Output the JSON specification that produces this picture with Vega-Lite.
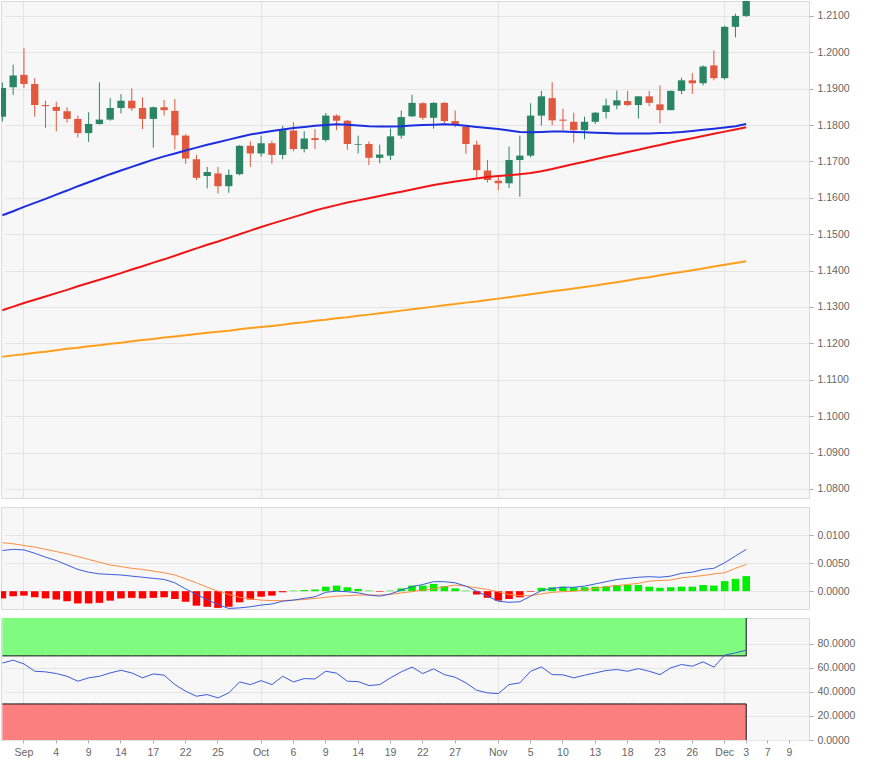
{
  "$schema": "https://vega.github.io/schema/vega-lite/v6.json",
  "background": "white",
  "padding": {"left": 0, "top": 0, "right": 5, "bottom": 0},
  "spacing": 7,
  "config": {
    "font": "Liberation Sans",
    "view": {"fill": "#f7f7f7", "stroke": "#dadada"},
    "axis": {"domain": false, "title": null, "labelFont": "Liberation Sans", "labelFontSize": 10.5, "labelColor": "#666666", "tickColor": "#aaaaaa", "gridColor": "#e4e4e4", "labelOverlap": false}
  },
  "datasets": {
    "fx": [
      {"date":"2020-08-28","open":1.1823,"high":1.1917,"low":1.1810,"close":1.1902,"sma50":1.1552,"sma100":1.1291,"sma200":1.1163,"macd":0.0073,"signal":0.0087,"hist":-0.0013,"rsi":64.0},
      {"date":"2020-08-31","open":1.1904,"high":1.1966,"low":1.1883,"close":1.1936,"sma50":1.1563,"sma100":1.1301,"sma200":1.1167,"macd":0.0075,"signal":0.0085,"hist":-0.0009,"rsi":66.4},
      {"date":"2020-09-01","open":1.1938,"high":1.2011,"low":1.1902,"close":1.1913,"sma50":1.1575,"sma100":1.1311,"sma200":1.1170,"macd":0.0074,"signal":0.0082,"hist":-0.0008,"rsi":63.3},
      {"date":"2020-09-02","open":1.1913,"high":1.1929,"low":1.1823,"close":1.1855,"sma50":1.1586,"sma100":1.1320,"sma200":1.1174,"macd":0.0068,"signal":0.0079,"hist":-0.0011,"rsi":57.2},
      {"date":"2020-09-03","open":1.1855,"high":1.1867,"low":1.1792,"close":1.1852,"sma50":1.1597,"sma100":1.1329,"sma200":1.1177,"macd":0.0061,"signal":0.0075,"hist":-0.0013,"rsi":56.7},
      {"date":"2020-09-04","open":1.1850,"high":1.1864,"low":1.1783,"close":1.1839,"sma50":1.1609,"sma100":1.1338,"sma200":1.1181,"macd":0.0055,"signal":0.0071,"hist":-0.0015,"rsi":55.3},
      {"date":"2020-09-07","open":1.1838,"high":1.1849,"low":1.1807,"close":1.1817,"sma50":1.1620,"sma100":1.1347,"sma200":1.1185,"macd":0.0047,"signal":0.0067,"hist":-0.0018,"rsi":53.0},
      {"date":"2020-09-08","open":1.1817,"high":1.1826,"low":1.1766,"close":1.1778,"sma50":1.1632,"sma100":1.1357,"sma200":1.1188,"macd":0.0039,"signal":0.0062,"hist":-0.0022,"rsi":48.9},
      {"date":"2020-09-09","open":1.1778,"high":1.1835,"low":1.1754,"close":1.1803,"sma50":1.1643,"sma100":1.1366,"sma200":1.1192,"macd":0.0034,"signal":0.0057,"hist":-0.0022,"rsi":51.7},
      {"date":"2020-09-10","open":1.1803,"high":1.1917,"low":1.1801,"close":1.1815,"sma50":1.1654,"sma100":1.1375,"sma200":1.1195,"macd":0.0031,"signal":0.0052,"hist":-0.0021,"rsi":53.0},
      {"date":"2020-09-11","open":1.1815,"high":1.1874,"low":1.1812,"close":1.1847,"sma50":1.1665,"sma100":1.1384,"sma200":1.1199,"macd":0.0030,"signal":0.0047,"hist":-0.0017,"rsi":55.8},
      {"date":"2020-09-14","open":1.1847,"high":1.1885,"low":1.1832,"close":1.1867,"sma50":1.1675,"sma100":1.1393,"sma200":1.1202,"macd":0.0029,"signal":0.0044,"hist":-0.0013,"rsi":58.0},
      {"date":"2020-09-15","open":1.1867,"high":1.1901,"low":1.1839,"close":1.1846,"sma50":1.1685,"sma100":1.1403,"sma200":1.1206,"macd":0.0027,"signal":0.0041,"hist":-0.0012,"rsi":55.8},
      {"date":"2020-09-16","open":1.1847,"high":1.1876,"low":1.1789,"close":1.1817,"sma50":1.1695,"sma100":1.1412,"sma200":1.1209,"macd":0.0025,"signal":0.0039,"hist":-0.0013,"rsi":51.7},
      {"date":"2020-09-17","open":1.1817,"high":1.1851,"low":1.1738,"close":1.1849,"sma50":1.1705,"sma100":1.1422,"sma200":1.1212,"macd":0.0023,"signal":0.0036,"hist":-0.0012,"rsi":55.0},
      {"date":"2020-09-18","open":1.1849,"high":1.1869,"low":1.1826,"close":1.1841,"sma50":1.1714,"sma100":1.1431,"sma200":1.1216,"macd":0.0021,"signal":0.0033,"hist":-0.0011,"rsi":53.9},
      {"date":"2020-09-21","open":1.1839,"high":1.1872,"low":1.1733,"close":1.1772,"sma50":1.1722,"sma100":1.1441,"sma200":1.1219,"macd":0.0015,"signal":0.0029,"hist":-0.0014,"rsi":46.1},
      {"date":"2020-09-22","open":1.1771,"high":1.1775,"low":1.1693,"close":1.1708,"sma50":1.1730,"sma100":1.1451,"sma200":1.1222,"macd":0.0004,"signal":0.0022,"hist":-0.0019,"rsi":40.6},
      {"date":"2020-09-23","open":1.1706,"high":1.1718,"low":1.1649,"close":1.1655,"sma50":1.1738,"sma100":1.1461,"sma200":1.1226,"macd":-0.0006,"signal":0.0015,"hist":-0.0026,"rsi":36.4},
      {"date":"2020-09-24","open":1.1660,"high":1.1685,"low":1.1626,"close":1.1671,"sma50":1.1746,"sma100":1.1471,"sma200":1.1229,"macd":-0.0015,"signal":0.0007,"hist":-0.0028,"rsi":37.8},
      {"date":"2020-09-25","open":1.1667,"high":1.1685,"low":1.1612,"close":1.1632,"sma50":1.1753,"sma100":1.1480,"sma200":1.1232,"macd":-0.0024,"signal":0.0000,"hist":-0.0030,"rsi":35.0},
      {"date":"2020-09-28","open":1.1632,"high":1.1678,"low":1.1614,"close":1.1663,"sma50":1.1760,"sma100":1.1490,"sma200":1.1235,"macd":-0.0031,"signal":-0.0006,"hist":-0.0028,"rsi":39.2},
      {"date":"2020-09-29","open":1.1665,"high":1.1745,"low":1.1662,"close":1.1743,"sma50":1.1767,"sma100":1.1500,"sma200":1.1239,"macd":-0.0030,"signal":-0.0011,"hist":-0.0020,"rsi":48.3},
      {"date":"2020-09-30","open":1.1743,"high":1.1755,"low":1.1685,"close":1.1722,"sma50":1.1774,"sma100":1.1510,"sma200":1.1242,"macd":-0.0028,"signal":-0.0014,"hist":-0.0015,"rsi":46.1},
      {"date":"2020-10-01","open":1.1722,"high":1.1771,"low":1.1713,"close":1.1750,"sma50":1.1779,"sma100":1.1520,"sma200":1.1245,"macd":-0.0025,"signal":-0.0016,"hist":-0.0010,"rsi":49.4},
      {"date":"2020-10-02","open":1.1750,"high":1.1757,"low":1.1694,"close":1.1718,"sma50":1.1784,"sma100":1.1529,"sma200":1.1248,"macd":-0.0023,"signal":-0.0017,"hist":-0.0008,"rsi":46.1},
      {"date":"2020-10-05","open":1.1718,"high":1.1798,"low":1.1706,"close":1.1786,"sma50":1.1788,"sma100":1.1538,"sma200":1.1251,"macd":-0.0018,"signal":-0.0017,"hist":-0.0002,"rsi":53.0},
      {"date":"2020-10-06","open":1.1785,"high":1.1808,"low":1.1728,"close":1.1734,"sma50":1.1792,"sma100":1.1547,"sma200":1.1255,"macd":-0.0016,"signal":-0.0016,"hist":0.0001,"rsi":48.3},
      {"date":"2020-10-07","open":1.1734,"high":1.1783,"low":1.1725,"close":1.1763,"sma50":1.1795,"sma100":1.1556,"sma200":1.1258,"macd":-0.0013,"signal":-0.0015,"hist":0.0002,"rsi":51.1},
      {"date":"2020-10-08","open":1.1764,"high":1.1789,"low":1.1734,"close":1.1759,"sma50":1.1798,"sma100":1.1565,"sma200":1.1262,"macd":-0.0010,"signal":-0.0013,"hist":0.0003,"rsi":50.8},
      {"date":"2020-10-09","open":1.1759,"high":1.1833,"low":1.1754,"close":1.1826,"sma50":1.1800,"sma100":1.1573,"sma200":1.1265,"macd":-0.0002,"signal":-0.0011,"hist":0.0008,"rsi":57.2},
      {"date":"2020-10-12","open":1.1826,"high":1.1829,"low":1.1786,"close":1.1812,"sma50":1.1802,"sma100":1.1580,"sma200":1.1269,"macd":0.0000,"signal":-0.0009,"hist":0.0010,"rsi":55.6},
      {"date":"2020-10-13","open":1.1812,"high":1.1814,"low":1.1732,"close":1.1748,"sma50":1.1801,"sma100":1.1587,"sma200":1.1272,"macd":-0.0001,"signal":-0.0008,"hist":0.0007,"rsi":48.9},
      {"date":"2020-10-14","open":1.1746,"high":1.1771,"low":1.1722,"close":1.1748,"sma50":1.1799,"sma100":1.1593,"sma200":1.1276,"macd":-0.0003,"signal":-0.0007,"hist":0.0004,"rsi":48.6},
      {"date":"2020-10-15","open":1.1748,"high":1.1755,"low":1.1690,"close":1.1710,"sma50":1.1797,"sma100":1.1599,"sma200":1.1279,"macd":-0.0007,"signal":-0.0007,"hist":0.0001,"rsi":45.3},
      {"date":"2020-10-16","open":1.1710,"high":1.1746,"low":1.1695,"close":1.1719,"sma50":1.1796,"sma100":1.1605,"sma200":1.1283,"macd":-0.0009,"signal":-0.0007,"hist":-0.0001,"rsi":46.1},
      {"date":"2020-10-19","open":1.1716,"high":1.1790,"low":1.1704,"close":1.1769,"sma50":1.1796,"sma100":1.1611,"sma200":1.1286,"macd":-0.0005,"signal":-0.0006,"hist":0.0001,"rsi":51.7},
      {"date":"2020-10-20","open":1.1771,"high":1.1840,"low":1.1762,"close":1.1822,"sma50":1.1797,"sma100":1.1617,"sma200":1.1290,"macd":0.0002,"signal":-0.0003,"hist":0.0005,"rsi":56.7},
      {"date":"2020-10-21","open":1.1824,"high":1.1883,"low":1.1822,"close":1.1861,"sma50":1.1799,"sma100":1.1623,"sma200":1.1294,"macd":0.0008,"signal":-0.0001,"hist":0.0010,"rsi":60.6},
      {"date":"2020-10-22","open":1.1860,"high":1.1863,"low":1.1814,"close":1.1820,"sma50":1.1800,"sma100":1.1629,"sma200":1.1297,"macd":0.0012,"signal":0.0002,"hist":0.0010,"rsi":55.3},
      {"date":"2020-10-23","open":1.1820,"high":1.1863,"low":1.1790,"close":1.1861,"sma50":1.1801,"sma100":1.1635,"sma200":1.1301,"macd":0.0017,"signal":0.0004,"hist":0.0013,"rsi":59.2},
      {"date":"2020-10-26","open":1.1861,"high":1.1863,"low":1.1803,"close":1.1811,"sma50":1.1802,"sma100":1.1640,"sma200":1.1305,"macd":0.0017,"signal":0.0008,"hist":0.0009,"rsi":54.4},
      {"date":"2020-10-27","open":1.1811,"high":1.1840,"low":1.1794,"close":1.1802,"sma50":1.1801,"sma100":1.1645,"sma200":1.1308,"macd":0.0015,"signal":0.0011,"hist":0.0005,"rsi":52.2},
      {"date":"2020-10-28","open":1.1796,"high":1.1799,"low":1.1721,"close":1.1748,"sma50":1.1798,"sma100":1.1649,"sma200":1.1312,"macd":0.0009,"signal":0.0009,"hist":0.0001,"rsi":47.5},
      {"date":"2020-10-29","open":1.1746,"high":1.1757,"low":1.1652,"close":1.1676,"sma50":1.1795,"sma100":1.1653,"sma200":1.1315,"macd":0.0000,"signal":0.0006,"hist":-0.0006,"rsi":41.4},
      {"date":"2020-10-30","open":1.1675,"high":1.1704,"low":1.1642,"close":1.1649,"sma50":1.1792,"sma100":1.1657,"sma200":1.1319,"macd":-0.0009,"signal":0.0003,"hist":-0.0012,"rsi":39.2},
      {"date":"2020-11-02","open":1.1647,"high":1.1658,"low":1.1621,"close":1.1640,"sma50":1.1789,"sma100":1.1660,"sma200":1.1323,"macd":-0.0018,"signal":-0.0001,"hist":-0.0017,"rsi":38.6},
      {"date":"2020-11-03","open":1.1640,"high":1.1741,"low":1.1627,"close":1.1704,"sma50":1.1785,"sma100":1.1662,"sma200":1.1327,"macd":-0.0020,"signal":-0.0006,"hist":-0.0014,"rsi":46.1},
      {"date":"2020-11-04","open":1.1704,"high":1.1771,"low":1.1603,"close":1.1716,"sma50":1.1781,"sma100":1.1665,"sma200":1.1331,"macd":-0.0019,"signal":-0.0008,"hist":-0.0011,"rsi":47.5},
      {"date":"2020-11-05","open":1.1716,"high":1.1860,"low":1.1711,"close":1.1826,"sma50":1.1780,"sma100":1.1668,"sma200":1.1335,"macd":-0.0009,"signal":-0.0008,"hist":-0.0001,"rsi":57.2},
      {"date":"2020-11-06","open":1.1826,"high":1.1894,"low":1.1799,"close":1.1879,"sma50":1.1781,"sma100":1.1673,"sma200":1.1339,"macd":0.0001,"signal":-0.0005,"hist":0.0006,"rsi":60.8},
      {"date":"2020-11-09","open":1.1874,"high":1.1918,"low":1.1799,"close":1.1813,"sma50":1.1782,"sma100":1.1679,"sma200":1.1343,"macd":0.0005,"signal":-0.0002,"hist":0.0007,"rsi":54.4},
      {"date":"2020-11-10","open":1.1815,"high":1.1845,"low":1.1786,"close":1.1812,"sma50":1.1782,"sma100":1.1686,"sma200":1.1347,"macd":0.0007,"signal":-0.0001,"hist":0.0008,"rsi":54.2},
      {"date":"2020-11-11","open":1.1809,"high":1.1834,"low":1.1752,"close":1.1786,"sma50":1.1781,"sma100":1.1693,"sma200":1.1351,"macd":0.0007,"signal":0.0000,"hist":0.0007,"rsi":51.7},
      {"date":"2020-11-12","open":1.1786,"high":1.1823,"low":1.1761,"close":1.1809,"sma50":1.1780,"sma100":1.1699,"sma200":1.1355,"macd":0.0009,"signal":0.0002,"hist":0.0007,"rsi":53.9},
      {"date":"2020-11-13","open":1.1809,"high":1.1836,"low":1.1803,"close":1.1834,"sma50":1.1779,"sma100":1.1706,"sma200":1.1359,"macd":0.0013,"signal":0.0005,"hist":0.0008,"rsi":55.8},
      {"date":"2020-11-16","open":1.1836,"high":1.1873,"low":1.1818,"close":1.1854,"sma50":1.1778,"sma100":1.1713,"sma200":1.1364,"macd":0.0017,"signal":0.0008,"hist":0.0009,"rsi":57.8},
      {"date":"2020-11-17","open":1.1854,"high":1.1895,"low":1.1843,"close":1.1868,"sma50":1.1777,"sma100":1.1719,"sma200":1.1368,"macd":0.0021,"signal":0.0010,"hist":0.0011,"rsi":58.6},
      {"date":"2020-11-18","open":1.1866,"high":1.1894,"low":1.1852,"close":1.1855,"sma50":1.1777,"sma100":1.1726,"sma200":1.1373,"macd":0.0023,"signal":0.0012,"hist":0.0011,"rsi":57.2},
      {"date":"2020-11-19","open":1.1855,"high":1.1879,"low":1.1818,"close":1.1879,"sma50":1.1777,"sma100":1.1732,"sma200":1.1378,"macd":0.0025,"signal":0.0014,"hist":0.0011,"rsi":59.4},
      {"date":"2020-11-20","open":1.1879,"high":1.1894,"low":1.1852,"close":1.1861,"sma50":1.1777,"sma100":1.1739,"sma200":1.1382,"macd":0.0026,"signal":0.0018,"hist":0.0008,"rsi":57.2},
      {"date":"2020-11-23","open":1.1857,"high":1.1909,"low":1.1805,"close":1.1841,"sma50":1.1778,"sma100":1.1745,"sma200":1.1387,"macd":0.0025,"signal":0.0019,"hist":0.0006,"rsi":54.4},
      {"date":"2020-11-24","open":1.1841,"high":1.1895,"low":1.1841,"close":1.1894,"sma50":1.1779,"sma100":1.1752,"sma200":1.1392,"macd":0.0027,"signal":0.0020,"hist":0.0007,"rsi":60.0},
      {"date":"2020-11-25","open":1.1894,"high":1.1930,"low":1.1885,"close":1.1923,"sma50":1.1781,"sma100":1.1758,"sma200":1.1396,"macd":0.0032,"signal":0.0024,"hist":0.0008,"rsi":62.8},
      {"date":"2020-11-26","open":1.1923,"high":1.1943,"low":1.1886,"close":1.1915,"sma50":1.1784,"sma100":1.1764,"sma200":1.1401,"macd":0.0034,"signal":0.0026,"hist":0.0008,"rsi":61.4},
      {"date":"2020-11-27","open":1.1915,"high":1.1964,"low":1.1909,"close":1.1961,"sma50":1.1787,"sma100":1.1770,"sma200":1.1406,"macd":0.0039,"signal":0.0028,"hist":0.0011,"rsi":65.0},
      {"date":"2020-11-30","open":1.1964,"high":1.2005,"low":1.1923,"close":1.1929,"sma50":1.1790,"sma100":1.1776,"sma200":1.1411,"macd":0.0041,"signal":0.0031,"hist":0.0010,"rsi":60.6},
      {"date":"2020-12-01","open":1.1929,"high":1.2073,"low":1.1925,"close":1.2070,"sma50":1.1793,"sma100":1.1782,"sma200":1.1416,"macd":0.0051,"signal":0.0033,"hist":0.0018,"rsi":70.6},
      {"date":"2020-12-02","open":1.2070,"high":1.2106,"low":1.2041,"close":1.2100,"sma50":1.1797,"sma100":1.1788,"sma200":1.1421,"macd":0.0063,"signal":0.0041,"hist":0.0022,"rsi":72.5},
      {"date":"2020-12-03","open":1.2100,"high":1.2176,"low":1.2097,"close":1.2144,"sma50":1.1803,"sma100":1.1794,"sma200":1.1426,"macd":0.0075,"signal":0.0048,"hist":0.0027,"rsi":74.7}
    ]
  },
  "vconcat": [
    {
      "width": 808,
      "height": 497,
      "data": {"name": "fx"},
      "encoding": {
        "x": {
          "field": "date", "type": "ordinal",
          "scale": {"domain": ["2020-08-28","2020-08-31","2020-09-01","2020-09-02","2020-09-03","2020-09-04","2020-09-07","2020-09-08","2020-09-09","2020-09-10","2020-09-11","2020-09-14","2020-09-15","2020-09-16","2020-09-17","2020-09-18","2020-09-21","2020-09-22","2020-09-23","2020-09-24","2020-09-25","2020-09-28","2020-09-29","2020-09-30","2020-10-01","2020-10-02","2020-10-05","2020-10-06","2020-10-07","2020-10-08","2020-10-09","2020-10-12","2020-10-13","2020-10-14","2020-10-15","2020-10-16","2020-10-19","2020-10-20","2020-10-21","2020-10-22","2020-10-23","2020-10-26","2020-10-27","2020-10-28","2020-10-29","2020-10-30","2020-11-02","2020-11-03","2020-11-04","2020-11-05","2020-11-06","2020-11-09","2020-11-10","2020-11-11","2020-11-12","2020-11-13","2020-11-16","2020-11-17","2020-11-18","2020-11-19","2020-11-20","2020-11-23","2020-11-24","2020-11-25","2020-11-26","2020-11-27","2020-11-30","2020-12-01","2020-12-02","2020-12-03","2020-12-04","2020-12-07","2020-12-08","2020-12-09","2020-12-10"], "range": [-4, 804.5], "paddingInner": 0, "paddingOuter": 0},
          "axis": {"labels": false, "ticks": false, "grid": true, "bandPosition": 0.5, "values": ["2020-09-01","2020-10-01","2020-11-02","2020-12-01"]}
        }
      },
      "layer": [
        {
          "mark": {"type": "rule", "strokeWidth": 1, "clip": true},
          "encoding": {
            "y": {"field": "low", "type": "quantitative", "scale": {"domain": [1.0775, 1.2141], "nice": false, "zero": false},
                  "axis": {"orient": "right", "grid": true, "format": ".4f", "tickSize": 4, "labelPadding": 4, "tickCount": 30, "values": [1.08,1.09,1.10,1.11,1.12,1.13,1.14,1.15,1.16,1.17,1.18,1.19,1.20,1.21]}},
            "y2": {"field": "high"},
            "color": {"condition": {"test": "datum.close >= datum.open", "value": "#2a8565"}, "value": "#e0583e"}
          }
        },
        {
          "mark": {"type": "bar", "width": {"band": 0.68}, "clip": true},
          "encoding": {
            "y": {"field": "open", "type": "quantitative"},
            "y2": {"field": "close"},
            "color": {"condition": {"test": "datum.close >= datum.open", "value": "#2a8565"}, "value": "#e0583e"}
          }
        },
        {
          "mark": {"type": "line", "color": "#ff9f1c", "strokeWidth": 2, "clip": true},
          "encoding": {"y": {"field": "sma200", "type": "quantitative"}}
        },
        {
          "mark": {"type": "line", "color": "#f01414", "strokeWidth": 2, "clip": true},
          "encoding": {"y": {"field": "sma100", "type": "quantitative"}}
        },
        {
          "mark": {"type": "line", "color": "#1a2ee0", "strokeWidth": 2, "clip": true},
          "encoding": {"y": {"field": "sma50", "type": "quantitative"}}
        }
      ]
    },
    {
      "width": 808,
      "height": 102,
      "data": {"name": "fx"},
      "encoding": {
        "x": {
          "field": "date", "type": "ordinal",
          "scale": {"domain": ["2020-08-28","2020-08-31","2020-09-01","2020-09-02","2020-09-03","2020-09-04","2020-09-07","2020-09-08","2020-09-09","2020-09-10","2020-09-11","2020-09-14","2020-09-15","2020-09-16","2020-09-17","2020-09-18","2020-09-21","2020-09-22","2020-09-23","2020-09-24","2020-09-25","2020-09-28","2020-09-29","2020-09-30","2020-10-01","2020-10-02","2020-10-05","2020-10-06","2020-10-07","2020-10-08","2020-10-09","2020-10-12","2020-10-13","2020-10-14","2020-10-15","2020-10-16","2020-10-19","2020-10-20","2020-10-21","2020-10-22","2020-10-23","2020-10-26","2020-10-27","2020-10-28","2020-10-29","2020-10-30","2020-11-02","2020-11-03","2020-11-04","2020-11-05","2020-11-06","2020-11-09","2020-11-10","2020-11-11","2020-11-12","2020-11-13","2020-11-16","2020-11-17","2020-11-18","2020-11-19","2020-11-20","2020-11-23","2020-11-24","2020-11-25","2020-11-26","2020-11-27","2020-11-30","2020-12-01","2020-12-02","2020-12-03","2020-12-04","2020-12-07","2020-12-08","2020-12-09","2020-12-10"], "range": [-4, 804.5], "paddingInner": 0, "paddingOuter": 0},
          "axis": {"labels": false, "ticks": false, "grid": true, "bandPosition": 0.5, "values": ["2020-09-01","2020-10-01","2020-11-02","2020-12-01"]}
        }
      },
      "layer": [
        {
          "mark": {"type": "bar", "width": {"band": 0.7}, "clip": true},
          "encoding": {
            "y": {"field": "hist", "type": "quantitative", "scale": {"domain": [-0.0032, 0.0151], "nice": false, "zero": false},
                  "axis": {"orient": "right", "grid": true, "format": ".4f", "tickSize": 4, "labelPadding": 4, "tickCount": 30, "values": [0, 0.005, 0.01]}},
            "y2": {"datum": 0},
            "color": {"condition": {"test": "datum.hist >= 0", "value": "#00ee00"}, "value": "#ff0000"}
          }
        },
        {
          "mark": {"type": "line", "color": "#ff8c40", "strokeWidth": 1, "clip": true},
          "encoding": {"y": {"field": "signal", "type": "quantitative"}}
        },
        {
          "mark": {"type": "line", "color": "#3b5bdb", "strokeWidth": 1, "clip": true},
          "encoding": {"y": {"field": "macd", "type": "quantitative"}}
        }
      ]
    },
    {
      "width": 808,
      "height": 122,
      "data": {"name": "fx"},
      "encoding": {
        "x": {
          "field": "date", "type": "ordinal",
          "scale": {"domain": ["2020-08-28","2020-08-31","2020-09-01","2020-09-02","2020-09-03","2020-09-04","2020-09-07","2020-09-08","2020-09-09","2020-09-10","2020-09-11","2020-09-14","2020-09-15","2020-09-16","2020-09-17","2020-09-18","2020-09-21","2020-09-22","2020-09-23","2020-09-24","2020-09-25","2020-09-28","2020-09-29","2020-09-30","2020-10-01","2020-10-02","2020-10-05","2020-10-06","2020-10-07","2020-10-08","2020-10-09","2020-10-12","2020-10-13","2020-10-14","2020-10-15","2020-10-16","2020-10-19","2020-10-20","2020-10-21","2020-10-22","2020-10-23","2020-10-26","2020-10-27","2020-10-28","2020-10-29","2020-10-30","2020-11-02","2020-11-03","2020-11-04","2020-11-05","2020-11-06","2020-11-09","2020-11-10","2020-11-11","2020-11-12","2020-11-13","2020-11-16","2020-11-17","2020-11-18","2020-11-19","2020-11-20","2020-11-23","2020-11-24","2020-11-25","2020-11-26","2020-11-27","2020-11-30","2020-12-01","2020-12-02","2020-12-03","2020-12-04","2020-12-07","2020-12-08","2020-12-09","2020-12-10"], "range": [-4, 804.5], "paddingInner": 0, "paddingOuter": 0},
          "axis": {
            "grid": true, "bandPosition": 0.5, "tickSize": 3, "labelPadding": 4, "labelAngle": 0,
            "values": ["2020-09-01","2020-09-04","2020-09-09","2020-09-14","2020-09-17","2020-09-22","2020-09-25","2020-10-01","2020-10-06","2020-10-09","2020-10-14","2020-10-19","2020-10-22","2020-10-27","2020-11-02","2020-11-05","2020-11-10","2020-11-13","2020-11-18","2020-11-23","2020-11-26","2020-12-01","2020-12-03","2020-12-07","2020-12-09"],
            "labelExpr": "indexof(['2020-09-01','2020-10-01','2020-11-02','2020-12-01'], datum.value) >= 0 ? utcFormat(toDate(datum.value), '%b') : '' + parseInt(substring(datum.value, 8, 10))",
            "gridOpacity": {"condition": {"test": "indexof(['2020-09-01','2020-10-01','2020-11-02','2020-12-01'], datum.value) >= 0", "value": 1}, "value": 0}
          }
        }
      },
      "layer": [
        {
          "mark": {"type": "area", "color": "#7ffb7f", "opacity": 1, "clip": true},
          "encoding": {
            "y": {"datum": 101.5, "type": "quantitative", "scale": {"domain": [0, 101.5], "nice": false},
                  "axis": {"orient": "right", "grid": true, "format": ".4f", "tickSize": 4, "labelPadding": 4, "tickCount": 30, "values": [0, 20, 40, 60, 80]}},
            "y2": {"datum": 70}
          }
        },
        {
          "mark": {"type": "area", "color": "#fb7f7f", "opacity": 1, "clip": true},
          "encoding": {"y": {"datum": 30, "type": "quantitative"}, "y2": {"datum": 0}}
        },
        {
          "mark": {"type": "line", "color": "#111111", "strokeWidth": 1, "clip": true},
          "encoding": {"y": {"datum": 70, "type": "quantitative"}}
        },
        {
          "mark": {"type": "line", "color": "#111111", "strokeWidth": 1, "clip": true},
          "encoding": {"y": {"datum": 30, "type": "quantitative"}}
        },
        {
          "transform": [{"filter": "datum.date == '2020-12-03'"}],
          "mark": {"type": "rule", "color": "#111111", "strokeWidth": 1},
          "encoding": {"y": {"datum": 70, "type": "quantitative"}, "y2": {"datum": 101.5}}
        },
        {
          "transform": [{"filter": "datum.date == '2020-12-03'"}],
          "mark": {"type": "rule", "color": "#111111", "strokeWidth": 1},
          "encoding": {"y": {"datum": 0, "type": "quantitative"}, "y2": {"datum": 30}}
        },
        {
          "mark": {"type": "line", "color": "#3b5bdb", "strokeWidth": 1, "clip": true},
          "encoding": {"y": {"field": "rsi", "type": "quantitative"}}
        }
      ]
    }
  ]
}
